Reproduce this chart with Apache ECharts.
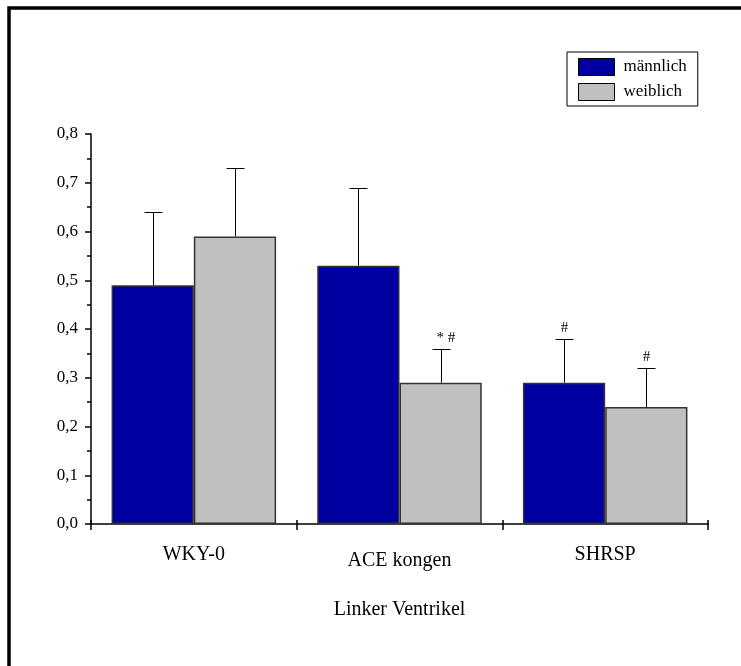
<!DOCTYPE html>
<html><head><meta charset="utf-8">
<script src="https://cdn.jsdelivr.net/npm/echarts@6/dist/echarts.min.js"></script>
<style>html,body{margin:0;padding:0;background:#fff}#c{width:741px;height:666px}</style>
</head><body><div id="c"></div>
<script>
const categories = ['WKY-0', 'ACE kongen', 'SHRSP'];
const seriesNames = ['männlich', 'weiblich'];
const maleMean = [0.49, 0.53, 0.29];
const maleUpper = [0.64, 0.69, 0.38];
const femaleMean = [0.59, 0.29, 0.24];
const femaleUpper = [0.73, 0.36, 0.32];
const maleMarks = ['', '', '#'];
const femaleMarks = ['', '* #', '#'];
const yTickLabels = ['0,0', '0,1', '0,2', '0,3', '0,4', '0,5', '0,6', '0,7', '0,8'];
const xAxisTitle = 'Linker Ventrikel';

const FONT = '"Liberation Serif", "Times New Roman", serif';
const BLUE = '#0000A0';
const GREY = '#C0C0C0';

function errRender(sign, marks) {
  return function (params, api) {
    const i = api.value(0);
    const mean = api.value(1), up = api.value(2);
    const band = api.size([1, 0])[0];
    const base = api.coord([i, mean]);
    const topP = api.coord([i, up]);
    const x = Math.round(base[0] + sign * 0.2 * band) + 0.5;
    const yT = Math.round(topP[1]) + 0.5;
    const children = [
      {type: 'line', shape: {x1: x, y1: base[1], x2: x, y2: yT}, style: {stroke: '#000', lineWidth: 1}},
      {type: 'line', shape: {x1: x - 9, y1: yT, x2: x + 9, y2: yT}, style: {stroke: '#000', lineWidth: 1}}
    ];
    const m = marks[i];
    if (m) {
      const multi = m.length > 1;
      children.push({
        type: 'text',
        style: {
          text: m, x: multi ? x - 5 : x, y: yT - 4,
          font: '15px ' + FONT, fill: '#000',
          align: multi ? 'left' : 'center', verticalAlign: 'bottom',
          textAlign: multi ? 'left' : 'center', textVerticalAlign: 'bottom'
        }
      });
    }
    return {type: 'group', children: children};
  };
}

const chart = echarts.init(document.getElementById('c'), null, {renderer: 'canvas'});
chart.setOption({
  backgroundColor: '#fff',
  animation: false,
  grid: {left: 91, right: 33, top: 134, bottom: 142, containLabel: false},
  legend: {
    data: seriesNames,
    orient: 'vertical',
    left: 567, top: 52,
    padding: [6, 11, 5, 11],
    itemWidth: 36, itemHeight: 17, itemGap: 7,
    borderColor: '#000', borderWidth: 1,
    backgroundColor: '#fff',
    icon: 'rect',
    itemStyle: {borderColor: '#000', borderWidth: 1},
    textStyle: {fontFamily: FONT, fontSize: 17, color: '#000', padding: [0, 0, 0, 4]}
  },
  xAxis: [{
    type: 'category',
    data: categories,
    axisLine: {lineStyle: {color: '#000', width: 1.5}},
    axisTick: {show: true, length: 6, lineStyle: {color: '#000', width: 1.5}},
    axisLabel: {
      color: '#000', fontFamily: FONT, fontSize: 20, margin: 21,
      formatter: function (v, i) { return i === 1 ? '{low|' + v + '}' : '{n|' + v + '}'; },
      rich: {
        n: {fontFamily: FONT, fontSize: 20, color: '#000'},
        low: {fontFamily: FONT, fontSize: 20, color: '#000', padding: [6, 0, 0, 0]}
      }
    },
    name: xAxisTitle,
    nameLocation: 'middle',
    nameGap: 76,
    nameTextStyle: {fontFamily: FONT, fontSize: 20, color: '#000'}
  }, {
    type: 'category',
    data: categories,
    position: 'bottom',
    axisLine: {show: false},
    axisTick: {show: true, inside: true, length: 4, lineStyle: {color: '#000', width: 1.5}},
    axisLabel: {show: false}
  }],
  yAxis: {
    type: 'value',
    min: 0, max: 0.8, interval: 0.1,
    axisLine: {show: true, lineStyle: {color: '#000', width: 1.5}},
    axisTick: {show: true, length: 6, lineStyle: {color: '#000', width: 1.5}},
    minorTick: {show: true, splitNumber: 2, length: 4, lineStyle: {color: '#000', width: 1.5}},
    splitLine: {show: false},
    axisLabel: {
      color: '#000', fontFamily: FONT, fontSize: 17, margin: 13,
      formatter: function (v) { return yTickLabels[Math.round(v * 10)]; }
    }
  },
  series: [
    {
      name: seriesNames[0], type: 'bar', data: maleMean,
      barGap: '0%', barCategoryGap: '20%',
      itemStyle: {color: BLUE, borderColor: '#333', borderWidth: 1.5}
    },
    {
      name: seriesNames[1], type: 'bar', data: femaleMean,
      barGap: '0%', barCategoryGap: '20%',
      itemStyle: {color: GREY, borderColor: '#333', borderWidth: 1.5}
    },
    {
      name: 'err_m', type: 'custom', z: 5,
      renderItem: errRender(-1, maleMarks),
      encode: {x: 0, y: [1, 2]},
      data: categories.map((c, i) => [i, maleMean[i], maleUpper[i]])
    },
    {
      name: 'err_f', type: 'custom', z: 5,
      renderItem: errRender(1, femaleMarks),
      encode: {x: 0, y: [1, 2]},
      data: categories.map((c, i) => [i, femaleMean[i], femaleUpper[i]])
    }
  ],
  graphic: [
    {type: 'polyline', silent: true, shape: {points: [[9, 666], [9, 8], [741, 8]]}, style: {stroke: '#000', lineWidth: 3.5, fill: null}}
  ]
});
</script>
</body></html>
